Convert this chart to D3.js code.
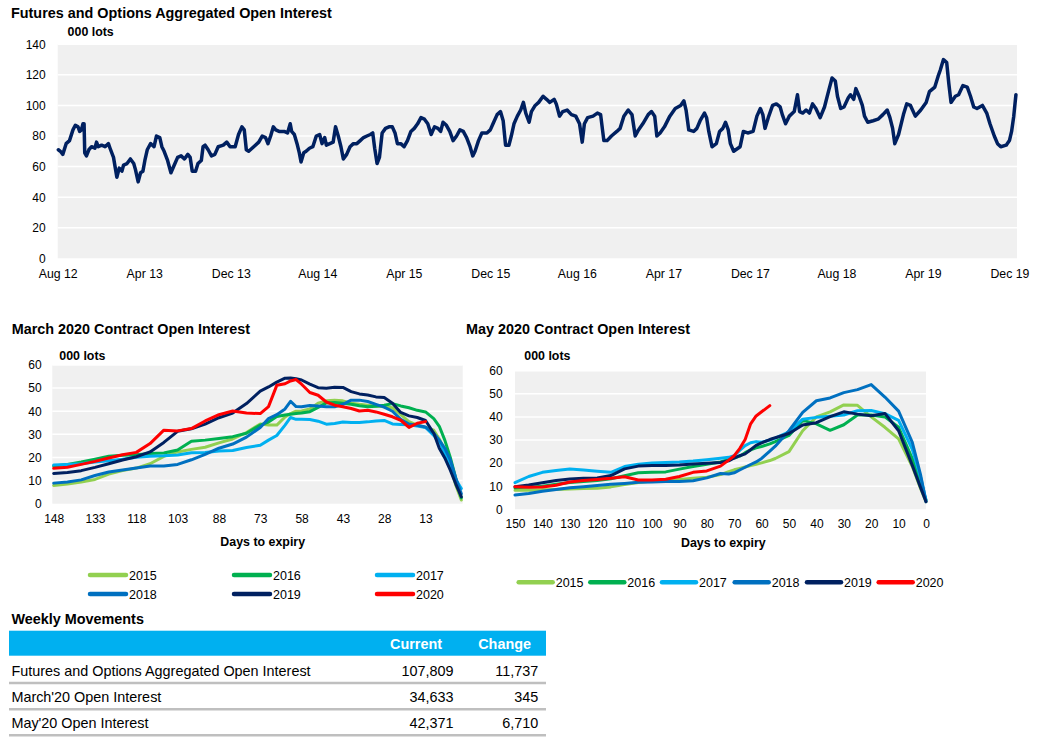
<!DOCTYPE html>
<html><head><meta charset="utf-8">
<script src="https://cdn.jsdelivr.net/npm/d3@7"></script>
<style>
body{margin:0;background:#fff;}
svg{display:block;font-family:"Liberation Sans",Arial,sans-serif;}
</style>
</head><body>
<svg id="c" width="1056" height="751"></svg>
<script>
// ---------- DATA ----------
// Aggregated open interest: months since Aug 2012, values in 000 lots
const aggMonths = [0.06,0.25,0.47,0.78,1.09,1.41,1.63,1.88,2.03,2.19,2.34,2.44,2.5,2.66,2.88,3.13,3.44,3.59,3.75,4.06,4.38,4.69,4.84,5.16,5.47,5.69,5.94,6.09,6.41,6.72,7.03,7.19,7.44,7.66,7.88,8.06,8.28,8.59,8.91,9.13,9.44,9.63,9.84,10.16,10.47,10.78,11.09,11.41,11.72,12.03,12.25,12.44,12.75,12.97,13.28,13.44,13.63,13.91,14.22,14.53,14.84,15.31,15.63,15.94,16.41,16.72,17.03,17.25,17.44,17.66,17.97,18.28,18.59,18.91,19.22,19.44,19.69,19.94,20.16,20.47,20.94,21.25,21.5,21.63,21.88,22.13,22.34,22.5,22.75,22.97,23.28,23.59,23.91,24.22,24.44,24.69,24.84,25.16,25.47,25.69,25.94,26.19,26.41,26.72,27.03,27.34,27.66,27.97,28.28,28.59,28.91,29.13,29.31,29.53,29.75,30.0,30.31,30.63,30.94,31.19,31.41,31.72,32.03,32.34,32.66,32.97,33.28,33.59,33.91,34.22,34.53,34.84,35.16,35.41,35.63,35.94,36.25,36.56,36.88,37.19,37.5,37.81,38.13,38.38,38.59,38.91,39.22,39.69,40.0,40.25,40.63,40.94,41.19,41.41,41.72,41.94,42.19,42.5,42.81,43.06,43.28,43.59,
43.8,44.15,44.47,44.88,45.2,45.5,45.9,46.1,46.4,46.7,47.1,47.5,47.9,48.25,48.5,48.7,49.0,49.5,49.9,50.2,50.5,50.8,51.2,51.7,52.0,52.35,52.75,53.1,53.4,53.7,54.1,54.6,54.9,55.2,55.4,55.7,56.1,56.6,57.1,57.6,57.9,58.1,58.35,58.8,59.1,59.4,59.8,60.0,60.2,60.5,60.9,61.2,61.5,61.75,62.0,62.2,62.5,63.1,63.4,63.8,64.3,64.65,64.97,65.2,65.4,65.7,66.1,66.45,66.8,67.0,67.3,67.65,68.1,68.4,68.6,68.9,69.2,69.5,69.8,70.1,70.5,70.9,71.3,71.6,71.9,72.1,72.4,72.7,73.1,73.3,73.6,73.8,74.1,74.4,74.6,74.9,75.4,75.85,76.3,76.7,76.95,77.2,77.4,77.75,78.2,78.5,78.85,79.3,79.8,80.3,80.6,81.1,81.4,81.6,81.9,82.2,82.4,82.6,83.0,83.3,83.7,84.1,84.4,84.7,85.0,85.5,85.9,86.2,86.6,86.9,87.2,87.7,88.0,88.2,88.4,88.6];
const aggValues = [71,70,68,75,77,84,87,86,83,84,88,88,69,67,71,73,72,76,73,74,73,75,72,66,53,59,57,61,62,65,62,58,50,56,57,64,71,75,73,80,79,73,70,64,56,61,66,67,65,68,66,57,57,62,64,73,74,71,67,68,73,74,76,73,73,81,86,84,71,70,72,74,76,80,79,75,80,86,84,83,83,82,88,83,81,75,69,63,69,70,72,73,80,81,75,79,74,75,76,86,80,73,65,68,73,75,75,77,79,80,81,82,72,62,66,82,85,86,86,82,75,75,73,77,83,85,88,92,91,88,81,86,85,83,89,87,83,77,80,84,83,79,73,67,70,77,82,82,84,88,94,96,90,74,74,80,88,93,97,102,95,89,
96,100,102,106,104,102,104,101,93,96,97,94,93,88,76,88,92,93,95,94,77,77,80,83,85,93,97,94,80,84,88,94,96,93,80,82,86,93,98,100,103,97,84,83,85,90,95,92,83,73,75,83,85,89,84,75,70,73,83,82,83,93,98,94,85,92,100,101,99,94,88,93,96,107,96,95,97,95,101,98,92,99,110,118,116,106,98,99,105,107,104,111,106,100,93,89,90,91,94,97,92,85,75,81,94,101,100,93,97,102,109,112,119,123,130,128,114,102,106,107,113,112,106,99,98,100,95,88,80,75,73,74,77,83,93,107];
const aggTickMonths = [0,8,16,24,32,40,48,56,64,72,80,88];
const aggTickLabels = ["Aug 12","Apr 13","Dec 13","Aug 14","Apr 15","Dec 15","Aug 16","Apr 17","Dec 17","Aug 18","Apr 19","Dec 19"];
const aggYTicks = [0,20,40,60,80,100,120,140];

// Contract series
const years = ["2015","2016","2017","2018","2019","2020"];
const yearColors = ["#92D050","#00B050","#00B0F0","#0070C0","#002060","#FF0000"];

const marDays = [148,143,138,133,128,123,118,113,108,103,98,93,88,83,78,73,70,67,64,62,60,58,55,52,49,46,43,40,37,34,31,28,25,22,19,16,13,10,8,6,4,2,0];
const mar2015 = [7.9,8.5,9.4,10.5,12.8,14.3,15.4,17.3,20.5,22.4,23.5,24.4,26.3,28,30.8,34.5,34,34,37.5,39,40,40.1,41,43.5,44.5,44.7,44.5,43.5,43,42.6,42.3,41.9,41.5,38.5,35.5,34,33,31.8,28,23,16,8,1.6];
const mar2016 = [16.3,17,18,19.2,20.5,21,21.2,21.7,21.9,23.2,27,27.5,28.2,29,30.5,34,35.3,37.7,38.4,38.7,39,39.2,39.8,41.7,43.6,43.8,43.5,43,42.4,41.9,42.2,42.6,43.3,42.3,41.5,40.4,39.7,36.8,33.5,27.5,20,11,2.5];
const mar2017 = [16.7,17,17.3,18,18.6,19.2,20.1,20.5,20.7,21.1,22,22.1,22.8,23,24.3,25.3,27.5,29.5,34,37.3,36.5,36.5,36.4,35.7,34.4,34.7,35.3,35.1,35.1,35.4,35.8,36,34.5,34.3,34.1,33.6,33,29.5,27,22,16,10.5,6.6];
const mar2018 = [8.9,9.4,10.3,12.2,13.7,14.6,15.4,16.3,16.3,17,19,21.3,24,25.8,28.8,33,36.8,38.5,41,44.3,42,41.9,42.5,42.3,41.9,41.9,43,44.8,44.8,44.2,43,41.8,40,36.5,34.5,33.9,33.2,30.5,27.5,24,19,11,4.3];
const mar2019 = [13.1,13.5,14.3,15.7,17.3,18.9,20.3,22.4,26.5,31.3,32.4,34.4,37.2,39.2,43.3,48.7,50.5,52.6,54.3,54.4,54.1,53.5,51.7,50.2,49.9,50.4,50.3,48.5,47.5,47,46.2,45.9,43.5,39.5,38,37.3,36,30.5,24,19.8,14.5,8.5,3];
const mar2020 = [15.3,15.8,17,18.3,19.8,21.2,22.2,26,31.8,31.5,32.5,35.8,38.5,40.1,39.2,39,42,51.2,51.9,53.1,53.7,51.7,48.1,46.9,44,42.6,41.9,41.2,40.1,40.4,39.7,38.7,37.6,36.1,33,34.8,35.5,null,null,null,null,null,null];
const marTicks = [148,133,118,103,88,73,58,43,28,13];

const mayDays = [150,145,140,135,130,125,120,115,110,105,100,95,90,85,80,75,72,70,68,66,64,62,60,57,55,50,45,40,35,30,25,20,15,10,5,2,0];
const may2015 = [8.3,8.3,8.5,8.6,8.8,9,9.1,9.7,10.7,11.6,12.2,12.5,12.9,13.4,13.9,15,16.3,17.1,17.7,18.3,18.9,19.5,20.1,21.1,22,25,34,40,42.2,45.2,45,40,35.5,30.5,18.5,9,3.3];
const may2016 = [9.3,9.6,10,10.8,11.6,12,12.5,13.2,14.5,15.8,16,16.2,17.4,18.5,19.5,20.5,21.6,22.2,23,24.5,25.7,26.6,27.2,28.3,29.3,32,38.5,37,34.2,36.6,40.8,40.8,40,35.5,22,11,4];
const may2017 = [11.5,14.2,16,16.8,17.4,17,16.5,16,18.5,19.5,20,20.3,20.5,20.9,21.5,22.1,22.5,23.2,25.5,27.6,28.8,29.3,29,30,30.8,33.5,39,39.8,40.3,40.8,42.7,42.8,41.4,38.5,26,14,4];
const may2018 = [6.2,6.8,7.8,8.6,9.3,9.8,10.3,10.8,11.2,11.7,11.8,12,12,12.4,13.6,15.5,15.3,15.8,17,18.2,19.4,20.5,22,25.2,27.3,34,42,47,48.2,50.5,51.8,54,48.6,42.5,29,15,3.3];
const may2019 = [9.8,10.5,11.5,12.5,13.1,13.4,13.6,14.6,17.5,18.7,19,19,19.2,19.6,19.9,20.3,21,22.2,23.2,24,25.8,27.7,28.8,30.2,31,32.8,36.5,37.5,40.1,42.2,41.2,40.5,41.5,34,19,9.5,3.3];
const may2020 = [9.8,9.5,9.7,10.4,11.8,12.5,12.9,13.4,14.1,12.7,12.7,13,14.2,16,16.6,18.7,21.3,23.2,26.3,30.2,37,40.4,42.2,44.9,null,null,null,null,null,null,null,null,null,null,null,null,null];
const mayTicks = [150,140,130,120,110,100,90,80,70,60,50,40,30,20,10,0];
const contractYTicks = [0,10,20,30,40,50,60];

// Weekly movements table
const tableRows = ["Futures and Options Aggregated Open Interest","March'20 Open Interest","May'20 Open Interest"];
const tableCurrent = ["107,809","34,633","42,371"];
const tableChange = ["11,737","345","6,710"];

// ---------- DRAW ----------
const svg = d3.select("#c");
const FONT = "'Liberation Sans', Arial, sans-serif";

function txt(x, y, s, size, weight, anchor, fill) {
  return svg.append("text").attr("x", x).attr("y", y).text(s)
    .attr("font-family", FONT).attr("font-size", size)
    .attr("font-weight", weight || "normal")
    .attr("text-anchor", anchor || "start")
    .attr("fill", fill || "#000");
}

function styleAxis(g, size) {
  g.select(".domain").remove();
  g.selectAll(".tick line").remove();
  g.attr("font-family", FONT).attr("font-size", size);
  g.selectAll("text").attr("fill", "#000");
}

function panel(box, x, y, yTicks) {
  svg.append("rect").attr("x", box.left).attr("y", box.top)
    .attr("width", box.right - box.left).attr("height", box.bottom - box.top)
    .attr("fill", "#f0f0f0");
  svg.append("g").selectAll("line").data(yTicks.slice(1)).join("line")
    .attr("x1", box.left).attr("x2", box.right)
    .attr("y1", d => y(d)).attr("y2", d => y(d))
    .attr("stroke", "#ffffff").attr("stroke-width", 1.5);
}

// ---- Top chart ----
txt(11, 18.3, "Futures and Options Aggregated Open Interest", "14.4px", "bold");
txt(67.6, 36.3, "000 lots", "12.4px", "bold");
const topBox = {left: 57.7, right: 1017, top: 44.3, bottom: 258.3};
const xA = d3.scaleLinear().domain([0, 88.7]).range([topBox.left, topBox.right]);
const yA = d3.scaleLinear().domain([0, 140]).range([topBox.bottom, topBox.top]);
panel(topBox, xA, yA, aggYTicks);
svg.append("g").attr("transform", `translate(${topBox.left},0)`)
  .call(d3.axisLeft(yA).tickValues(aggYTicks).tickSize(0).tickPadding(12))
  .call(g => styleAxis(g, "12px"));
svg.append("g").attr("transform", `translate(0,${topBox.bottom})`)
  .call(d3.axisBottom(xA).tickValues(aggTickMonths).tickSize(0).tickPadding(11)
    .tickFormat((d, i) => aggTickLabels[i]))
  .call(g => styleAxis(g, "12.3px"));
const aggData = aggMonths.map((m, i) => [m, aggValues[i]]);
svg.append("path").datum(aggData)
  .attr("fill", "none").attr("stroke", "#002060").attr("stroke-width", 3.5)
  .attr("stroke-linejoin", "round").attr("stroke-linecap", "round")
  .attr("d", d3.line().x(d => xA(d[0])).y(d => yA(d[1])));

// ---- Contract charts ----
function contractChart(cfg) {
  txt(cfg.titleX, 334, cfg.title, "14.4px", "bold");
  txt(cfg.lotsX, 360, "000 lots", "12.4px", "bold");
  const box = cfg.box;
  const x = d3.scaleLinear().domain(cfg.xDomain).range([box.left, box.right]);
  const y = d3.scaleLinear().domain([0, 60]).range([box.bottom, box.top]);
  panel(box, x, y, contractYTicks);
  svg.append("g").attr("transform", `translate(${box.left},0)`)
    .call(d3.axisLeft(y).tickValues(contractYTicks).tickSize(0).tickPadding(cfg.yPad))
    .call(g => styleAxis(g, "12px"));
  svg.append("g").attr("transform", `translate(0,${box.bottom})`)
    .call(d3.axisBottom(x).tickValues(cfg.ticks).tickSize(0).tickPadding(cfg.xPad))
    .call(g => styleAxis(g, "12px"));
  txt(cfg.xTitleX, cfg.xTitleY, "Days to expiry", "12.4px", "bold", "middle");
  const line = d3.line().defined(d => d[1] !== null)
    .x(d => x(d[0])).y(d => y(d[1]));
  cfg.series.forEach((vals, i) => {
    svg.append("path").datum(cfg.days.map((dd, j) => [dd, vals[j]]))
      .attr("fill", "none").attr("stroke", yearColors[i]).attr("stroke-width", 3)
      .attr("stroke-linejoin", "round").attr("stroke-linecap", "round")
      .attr("d", line);
  });
  // legend
  cfg.legend.forEach((p, i) => {
    svg.append("line").attr("x1", p[0] + 2).attr("x2", p[0] + cfg.legLen - 2)
      .attr("y1", p[1]).attr("y2", p[1])
      .attr("stroke", yearColors[i]).attr("stroke-width", 4.5).attr("stroke-linecap", "round");
    txt(p[0] + cfg.legLen + 1, p[1] + 4.5, years[i], "12.5px");
  });
}

contractChart({
  title: "March 2020 Contract Open Interest", titleX: 11.7, lotsX: 59.3,
  box: {left: 52.3, right: 462.7, top: 365, bottom: 503.7},
  xDomain: [148.5, -0.5], ticks: marTicks, yPad: 10.6, xPad: 11,
  xTitleX: 262.7, xTitleY: 546,
  days: marDays, series: [mar2015, mar2016, mar2017, mar2018, mar2019, mar2020],
  legLen: 40,
  legend: [[88, 575], [232, 575], [375, 575], [88, 594], [232, 594], [375, 594]]
});

contractChart({
  title: "May 2020 Contract Open Interest", titleX: 466, lotsX: 524.3,
  box: {left: 515, right: 926, top: 370.7, bottom: 509.3},
  xDomain: [150, 0], ticks: mayTicks, yPad: 12.3, xPad: 10.4,
  xTitleX: 723.3, xTitleY: 547.3,
  days: mayDays, series: [may2015, may2016, may2017, may2018, may2019, may2020],
  legLen: 38,
  legend: [[516.7, 582.3], [588.3, 582.3], [660, 582.3], [732.7, 582.3], [805, 582.3], [876.7, 582.3]]
});

// ---- Weekly movements table ----
txt(11.4, 624, "Weekly Movements", "14.4px", "bold");
svg.append("rect").attr("x", 9).attr("y", 630.7).attr("width", 537).attr("height", 25).attr("fill", "#00B0F0");
txt(442, 649, "Current", "14.4px", "bold", "end", "#fff");
txt(531, 649, "Change", "14.4px", "bold", "end", "#fff");
const rowBase = [676, 702.3, 728.3];
const rowLine = [683, 709.3, 735.3];
tableRows.forEach((r, i) => {
  txt(11.4, rowBase[i], r, "14.4px");
  txt(453.6, rowBase[i], tableCurrent[i], "14.4px", "normal", "end");
  txt(538.2, rowBase[i], tableChange[i], "14.4px", "normal", "end");
  svg.append("line").attr("x1", 9).attr("x2", 546).attr("y1", rowLine[i]).attr("y2", rowLine[i])
    .attr("stroke", "#BFBFBF").attr("stroke-width", 2.6);
});
</script>
</body></html>
